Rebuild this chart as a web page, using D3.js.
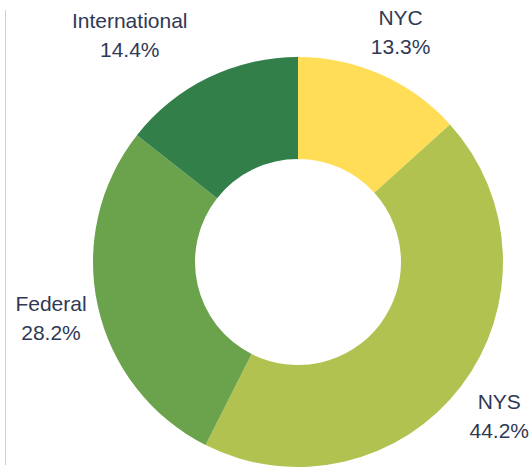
<!DOCTYPE html>
<html>
<head>
<meta charset="utf-8">
<script src="https://cdn.jsdelivr.net/npm/d3@7"></script>
<style>
  body { margin: 0; background: #fff; }
  svg { display: block; }
</style>
</head>
<body>
<div id="chart"></div>
<script>
// values, clockwise from 12 o'clock
let categories = ["NYC", "NYS", "Federal", "International"];
let shares = [13.3, 44.2, 28.2, 14.4];
let colors = ["#ffdd57", "#b2c251", "#6ba34c", "#337f4a"];

let width = 531;
let height = 467;
let cx = 298, cy = 262;
let outerR = 205;
let innerR = 103;
let labelR = 253;

let data = categories.map(function(c, i) {
    return { name: c, value: shares[i], color: colors[i] };
});

let svg = d3.select("#chart")
    .append("svg")
    .attr("width", width)
    .attr("height", height);

// thin grey rule on the left
svg.append("line")
    .attr("x1", 5.5).attr("x2", 5.5)
    .attr("y1", 10).attr("y2", 465)
    .attr("stroke", "#d0d0d0")
    .attr("stroke-width", 1);

let pie = d3.pie()
    .sort(null)
    .value(function(d) { return d.value; });

let arc = d3.arc()
    .innerRadius(innerR)
    .outerRadius(outerR);

let labelArc = d3.arc()
    .innerRadius(labelR)
    .outerRadius(labelR);

let g = svg.append("g")
    .attr("transform", "translate(" + cx + "," + cy + ")");

let arcs = pie(data);

g.selectAll("path")
    .data(arcs)
    .enter()
    .append("path")
    .attr("d", arc)
    .attr("fill", function(d) { return d.data.color; });

let labels = g.selectAll("g.label")
    .data(arcs)
    .enter()
    .append("g")
    .attr("class", "label")
    .attr("transform", function(d) {
        let p = labelArc.centroid(d);
        return "translate(" + p[0] + "," + p[1] + ")";
    });

labels.append("text")
    .attr("class", "name")
    .attr("y", -6)
    .attr("text-anchor", "middle")
    .style("font-family", "'Liberation Sans', Arial, sans-serif")
    .style("font-size", "21px")
    .style("fill", "#2f3955")
    .text(function(d) { return d.data.name; });

labels.append("text")
    .attr("class", "pct")
    .attr("y", 23)
    .attr("text-anchor", "middle")
    .style("font-family", "'Liberation Sans', Arial, sans-serif")
    .style("font-size", "21px")
    .style("fill", "#2f3955")
    .text(function(d) { return d.data.value.toFixed(1) + "%"; });

// upper-left labels hang off to the left of their anchor, as a centred block
labels.each(function(d) {
    let mid = (d.startAngle + d.endAngle) / 2;
    if (mid > Math.PI * 1.5 && mid < Math.PI * 1.95) {
        let w = 0;
        d3.select(this).selectAll("text").each(function() {
            w = Math.max(w, this.getComputedTextLength());
        });
        d3.select(this).selectAll("text").attr("x", -w / 2);
    }
});
</script>
</body>
</html>
